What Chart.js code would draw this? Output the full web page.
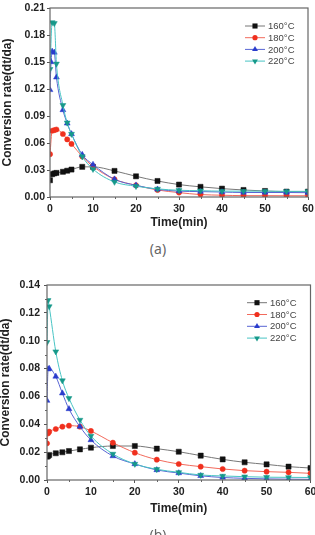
<!DOCTYPE html>
<html>
<head>
<meta charset="utf-8">
<script src="https://cdn.jsdelivr.net/npm/chart.js@4.4.1/dist/chart.umd.min.js"></script>
<style>
  body { margin: 0; background: #fff; width: 315px; height: 535px; overflow: hidden; position: relative; }
  canvas { position: absolute; left: 0; }
  #chartA { top: 0; }
  #chartB { top: 255px; }
  .cap { position: absolute; left: 0; width: 316px; text-align: center; font-family: "Noto Sans", sans-serif; font-size: 14px; color: #666; }
</style>
</head>
<body>
<canvas id="chartA" width="315" height="232"></canvas>
<div class="cap" style="top:239px">(a)</div>
<canvas id="chartB" width="315" height="280"></canvas>
<div class="cap" style="top:525px">(b)</div>
<script>
// Data
const labels = ['160°C', '180°C', '200°C', '220°C'];

// (a)
const timeA = [0, 0.25, 0.5, 1, 1.5, 3, 4, 5, 7.5, 10, 15, 20, 25, 30, 35, 40, 45, 50, 55, 60];
const a160 = [0.0186, null, 0.0253, 0.0262, 0.0268, 0.0280, 0.0292, 0.0305, 0.0335, 0.0335, 0.0290, 0.0230, 0.0178, 0.0138, 0.0113, 0.0093, 0.0078, 0.0067, 0.0060, 0.0060];
const a180 = [0.0476, null, 0.0736, 0.0743, 0.0750, 0.0700, 0.0640, 0.0590, 0.0450, 0.0340, 0.0197, 0.0130, 0.0078, 0.0049, 0.0027, 0.0020, 0.0015, 0.0015, 0.0014, 0.0014];
const a200 = [0.1190, 0.1500, 0.1617, 0.1606, 0.1330, 0.0967, 0.0818, 0.0700, 0.0470, 0.0360, 0.0197, 0.0130, 0.0085, 0.0065, 0.0060, 0.0055, 0.0050, 0.0050, 0.0050, 0.0048];
const a220 = [0.1420, null, 0.1940, 0.1930, 0.1480, 0.1020, 0.0825, 0.0700, 0.0450, 0.0310, 0.0167, 0.0120, 0.0090, 0.0075, 0.0070, 0.0065, 0.0065, 0.0065, 0.0063, 0.0063];

// (b)
const timeB = [0, 0.25, 0.5, 2, 3.5, 5, 7.5, 10, 15, 20, 25, 30, 35, 40, 45, 50, 55, 60];
const b160 = [0.0168, 0.0172, 0.0180, 0.0192, 0.0199, 0.0208, 0.0220, 0.0232, 0.0244, 0.0244, 0.0225, 0.0203, 0.0175, 0.0148, 0.0127, 0.0112, 0.0096, 0.0086];
const b180 = [0.0263, 0.0335, 0.0347, 0.0366, 0.0383, 0.0390, 0.0383, 0.0352, 0.0268, 0.0196, 0.0146, 0.0115, 0.0096, 0.0079, 0.0067, 0.0060, 0.0055, 0.0048];
const b200 = [0.0570, 0.0795, 0.0800, 0.0743, 0.0623, 0.0510, 0.0383, 0.0287, 0.0172, 0.0115, 0.0072, 0.0050, 0.0030, 0.0018, 0.0012, 0.0008, 0.0006, 0.0005];
const b220 = [0.0989, 0.1290, 0.1246, 0.0922, 0.0714, 0.0587, 0.0431, 0.0316, 0.0187, 0.0115, 0.0077, 0.0055, 0.0036, 0.0029, 0.0024, 0.0020, 0.0019, 0.0018];

const xTicks = [0, 10, 20, 30, 40, 50, 60];

// look of each series
const styles = [
  { line: '#777777', point: '#111111', shape: 'rect', r: 3.6, rot: 0 },
  { line: '#f26a5c', point: '#f0301e', shape: 'circle', r: 2.6, rot: 0 },
  { line: '#5865d4', point: '#2a3ccc', shape: 'triangle', r: 3.4, rot: 0 },
  { line: '#48c4c4', point: '#16998a', shape: 'triangle', r: 3.4, rot: 180 }
];

function toPoints(times, vals) {
  const pts = [];
  vals.forEach((v, i) => { if (v !== null) pts.push({ x: times[i], y: v }); });
  return pts;
}

function makeDatasets(times, series) {
  return series.map((vals, i) => ({
    label: labels[i],
    data: toPoints(times, vals),
    borderColor: styles[i].line,
    borderWidth: 1,
    backgroundColor: styles[i].point,
    pointBackgroundColor: styles[i].point,
    pointBorderColor: styles[i].point,
    pointBorderWidth: 0.5,
    pointStyle: styles[i].shape,
    pointRotation: styles[i].rot,
    pointRadius: styles[i].r,
    cubicInterpolationMode: 'monotone',
    order: 4 - i
  }));
}

// frame, minor ticks and the inside legend
const framePlugin = {
  id: 'frame',
  afterDatasetsDraw(chart, args, opts) {
    const ctx = chart.ctx;
    const a = chart.chartArea;
    ctx.save();
    ctx.strokeStyle = '#666';
    ctx.lineWidth = 1.2;
    ctx.strokeRect(a.left, a.top, a.right - a.left, a.bottom - a.top);
    // minor ticks
    ctx.lineWidth = 1;
    ctx.beginPath();
    [5, 15, 25, 35, 45, 55].forEach(t => {
      const x = Math.round(chart.scales.x.getPixelForValue(t)) + 0.5;
      ctx.moveTo(x, a.bottom);
      ctx.lineTo(x, a.bottom + 2);
    });
    (opts.yMinor || []).forEach(v => {
      const y = Math.round(chart.scales.y.getPixelForValue(v)) + 0.5;
      ctx.moveTo(a.left, y);
      ctx.lineTo(a.left - 2, y);
    });
    ctx.stroke();

    // legend
    ctx.font = '9.5px "Liberation Sans", Arial, sans-serif';
    ctx.textBaseline = 'middle';
    ctx.textAlign = 'left';
    chart.data.datasets.forEach((ds, i) => {
      const y = opts.legY + i * opts.legStep;
      const x0 = opts.legX;
      ctx.strokeStyle = ds.borderColor;
      ctx.lineWidth = 1;
      ctx.beginPath();
      ctx.moveTo(x0, y);
      ctx.lineTo(x0 + 20, y);
      ctx.stroke();
      ctx.fillStyle = ds.pointBackgroundColor;
      drawMarker(ctx, styles[i], x0 + 10, y);
      ctx.fillStyle = '#444';
      ctx.fillText(ds.label, x0 + 23, y + 0.5);
    });
    ctx.restore();
  }
};

function drawMarker(ctx, s, x, y) {
  ctx.beginPath();
  if (s.shape === 'rect') {
    const h = s.r * Math.SQRT1_2;
    ctx.rect(x - h, y - h, 2 * h, 2 * h);
  } else if (s.shape === 'circle') {
    ctx.arc(x, y, s.r, 0, Math.PI * 2);
  } else {
    const d = s.rot ? -1 : 1;
    const r = s.r;
    ctx.moveTo(x, y - d * r);
    ctx.lineTo(x - r * 0.866, y + d * r * 0.5);
    ctx.lineTo(x + r * 0.866, y + d * r * 0.5);
    ctx.closePath();
  }
  ctx.fill();
}

function makeChart(id, datasets, cfg) {
  const tickFont = { family: '"Liberation Sans", Arial, sans-serif', size: 10.5, weight: 'bold' };
  const titleFont = { family: '"Liberation Sans", Arial, sans-serif', size: 12, weight: 'bold', lineHeight: 1 };
  return new Chart(document.getElementById(id), {
    type: 'line',
    data: { datasets: datasets },
    plugins: [framePlugin],
    options: {
      responsive: false,
      animation: false,
      layout: { padding: { top: cfg.top, right: cfg.right, left: 0, bottom: 0 } },
      plugins: {
        legend: { display: false },
        tooltip: { enabled: false },
        frame: { legX: cfg.legX, legY: cfg.legY, legStep: cfg.legStep, yMinor: cfg.yMinor }
      },
      scales: {
        x: {
          type: 'linear',
          min: 0,
          max: 60,
          afterBuildTicks: s => { s.ticks = xTicks.map(v => ({ value: v })); },
          afterFit: s => { s.height = cfg.xHeight; s.paddingLeft = 0; s.paddingRight = 0; },
          border: { display: false },
          grid: { drawOnChartArea: false, drawTicks: true, tickLength: 3, tickColor: '#555' },
          ticks: { font: tickFont, color: '#222', padding: 3, maxRotation: 0, autoSkip: false },
          title: { display: true, text: 'Time(min)', font: titleFont, color: '#222', padding: { top: 0, bottom: cfg.xTitlePad } }
        },
        y: {
          min: 0,
          max: cfg.yMax,
          afterBuildTicks: s => { s.ticks = cfg.yTicks.map(v => ({ value: v })); },
          afterFit: s => { s.width = cfg.yWidth; s.paddingTop = 0; s.paddingBottom = 0; },
          border: { display: false },
          grid: { drawOnChartArea: false, drawTicks: true, tickLength: 3, tickColor: '#555' },
          ticks: { font: tickFont, color: '#222', padding: cfg.yTickPad, callback: v => v.toFixed(2) },
          title: { display: true, text: 'Conversion rate(dt/da)', font: titleFont, color: '#222', padding: { top: cfg.yTitlePad, bottom: 0 } }
        }
      }
    }
  });
}

makeChart('chartA', makeDatasets(timeA, [a160, a180, a200, a220]), {
  top: 8, right: 7, xHeight: 35, yWidth: 50, yMax: 0.21,
  yTicks: [0, 0.03, 0.06, 0.09, 0.12, 0.15, 0.18, 0.21],
  yMinor: [],
  xTitlePad: 3, yTitlePad: 2, yTickPad: 2,
  legX: 245, legY: 26, legStep: 11.7
});

makeChart('chartB', makeDatasets(timeB, [b160, b180, b200, b220]), {
  top: 30, right: 3, xHeight: 55, yWidth: 47, yMax: 0.14,
  yTicks: [0, 0.02, 0.04, 0.06, 0.08, 0.10, 0.12, 0.14],
  yMinor: [0.01, 0.03, 0.05, 0.07, 0.09, 0.11, 0.13],
  xTitlePad: 20, yTitlePad: 0, yTickPad: 4,
  legX: 247, legY: 47.7, legStep: 11.8
});
</script>
</body>
</html>
